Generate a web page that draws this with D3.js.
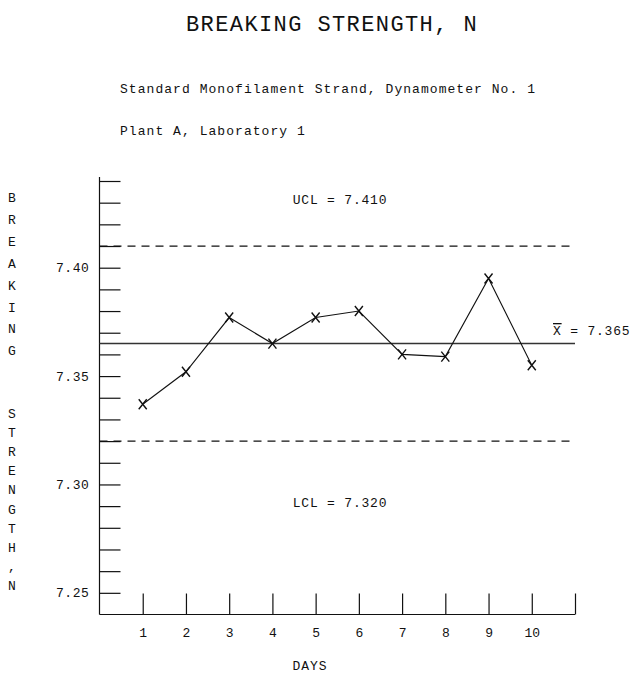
<!DOCTYPE html>
<html>
<head>
<meta charset="utf-8">
<script src="https://cdn.jsdelivr.net/npm/d3@7"></script>
<style>
  html, body { margin: 0; padding: 0; background: #fff; }
  svg { display: block; }
  text { font-family: "Liberation Mono", "DejaVu Sans Mono", monospace; fill: #111; }
</style>
</head>
<body>
<svg id="chart" width="632" height="673"></svg>
<script>
// ---- data ----
const days = [1, 2, 3, 4, 5, 6, 7, 8, 9, 10];
const strength = [7.337, 7.352, 7.377, 7.365, 7.377, 7.380, 7.360, 7.359, 7.395, 7.355];
const ucl = 7.410;
const mean = 7.365;
const lcl = 7.320;
const yTickValues = [7.25, 7.26, 7.27, 7.28, 7.29, 7.30, 7.31, 7.32, 7.33, 7.34, 7.35, 7.36, 7.37, 7.38, 7.39, 7.40, 7.41, 7.42, 7.43, 7.44];
const yLabelValues = [7.25, 7.30, 7.35, 7.40];
const xTickValues = [1, 2, 3, 4, 5, 6, 7, 8, 9, 10, 11];
const xLabelValues = [1, 2, 3, 4, 5, 6, 7, 8, 9, 10];
const title = "BREAKING STRENGTH, N";
const subtitle1 = "Standard Monofilament Strand, Dynamometer No. 1";
const subtitle2 = "Plant A, Laboratory 1";
const yTitle1 = "BREAKING";
const yTitle2 = "STRENGTH,N";
const xTitle = "DAYS";

// ---- layout ----
const svg = d3.select("#chart");
const x = d3.scaleLinear().domain([0, 11]).range([99.5, 575]);
const y = d3.scaleLinear().domain([7.24, 7.44]).range([614.5, 181]);

// titles
svg.append("text").attr("x", 332).attr("y", 31).attr("text-anchor", "middle")
  .style("font-size", "22px").style("letter-spacing", "1.4px").attr("fill", "#222").text(title);
svg.append("text").attr("x", 120).attr("y", 93)
  .style("font-size", "13px").style("letter-spacing", "1.05px").text(subtitle1);
svg.append("text").attr("x", 120).attr("y", 135)
  .style("font-size", "13px").style("letter-spacing", "1.05px").text(subtitle2);

// vertical y title (stacked letters)
const yt1 = svg.append("g");
yTitle1.split("").forEach((c, i) => {
  yt1.append("text").attr("x", 12).attr("y", 202 + i * 21.9).attr("text-anchor", "middle")
    .style("font-size", "13px").text(c);
});
const yt2 = svg.append("g");
yTitle2.split("").forEach((c, i) => {
  yt2.append("text").attr("x", 12).attr("y", 418 + i * 19.1).attr("text-anchor", "middle")
    .style("font-size", "13px").text(c);
});

// y axis
const yAxis = d3.axisLeft(y).tickValues(yTickValues).tickSizeInner(-21).tickSizeOuter(0).tickPadding(10)
  .tickFormat(d => yLabelValues.some(v => Math.abs(v - d) < 1e-9) ? d3.format(".2f")(d) : "");
const gy = svg.append("g").attr("transform", `translate(${x(0)},0)`).call(yAxis);
gy.select(".domain").remove();
gy.selectAll("line").attr("stroke", "#111").attr("stroke-width", 1.2);
gy.selectAll("text").style("font-size", "13px").style("letter-spacing", "0.6px")
  .style("font-family", "Liberation Mono, DejaVu Sans Mono, monospace").attr("fill", "#111");
svg.append("line").attr("x1", x(0)).attr("x2", x(0)).attr("y1", y(7.24)).attr("y2", 177)
  .attr("stroke", "#111").attr("stroke-width", 1.2);

// x axis
const xAxis = d3.axisBottom(x).tickValues(xTickValues).tickSizeInner(-21).tickSizeOuter(0).tickPadding(13)
  .tickFormat(d => xLabelValues.includes(d) ? String(d) : "");
const gx = svg.append("g").attr("transform", `translate(0,${y(7.24)})`).call(xAxis);
gx.select(".domain").remove();
gx.selectAll("line").attr("stroke", "#111").attr("stroke-width", 1.2);
gx.selectAll("text").style("font-size", "13px")
  .style("font-family", "Liberation Mono, DejaVu Sans Mono, monospace").attr("fill", "#111");
svg.append("line").attr("x1", x(0)).attr("x2", x(11)).attr("y1", y(7.24)).attr("y2", y(7.24))
  .attr("stroke", "#111").attr("stroke-width", 1.2);

svg.append("text").attr("x", 310).attr("y", 670).attr("text-anchor", "middle")
  .style("font-size", "13px").style("letter-spacing", "1px").text(xTitle);

// control lines
svg.append("line").attr("x1", x(0)).attr("x2", x(11)).attr("y1", y(ucl)).attr("y2", y(ucl))
  .attr("stroke", "#111").attr("stroke-width", 1.2).attr("stroke-dasharray", "8,6");
svg.append("line").attr("x1", x(0)).attr("x2", x(11)).attr("y1", y(lcl)).attr("y2", y(lcl))
  .attr("stroke", "#111").attr("stroke-width", 1.2).attr("stroke-dasharray", "8,6");
svg.append("line").attr("x1", x(0)).attr("x2", x(11)).attr("y1", y(mean)).attr("y2", y(mean))
  .attr("stroke", "#333").attr("stroke-width", 1.6);

// control line labels
svg.append("text").attr("x", 340).attr("y", 204).attr("text-anchor", "middle")
  .style("font-size", "13px").style("letter-spacing", "0.8px").text("UCL = " + d3.format(".3f")(ucl));
svg.append("text").attr("x", 340).attr("y", 507).attr("text-anchor", "middle")
  .style("font-size", "13px").style("letter-spacing", "0.8px").text("LCL = " + d3.format(".3f")(lcl));
const mt = svg.append("text").attr("x", 553).attr("y", 335)
  .style("font-size", "13px").style("letter-spacing", "0.8px");
mt.append("tspan").style("text-decoration", "overline").text("X");
mt.append("tspan").text(" = " + d3.format(".3f")(mean));

// data line
const line = d3.line().x((d, i) => x(days[i])).y(d => y(d));
svg.append("path").datum(strength).attr("d", line)
  .attr("fill", "none").attr("stroke", "#111").attr("stroke-width", 1.1);

// X markers
svg.append("g").selectAll("path").data(strength).join("path")
  .attr("transform", (d, i) => `translate(${x(days[i])},${y(d)})`)
  .attr("d", "M-4,-5L4,5M4,-5L-4,5")
  .attr("fill", "none").attr("stroke", "#111").attr("stroke-width", 1.4);
</script>
</body>
</html>
